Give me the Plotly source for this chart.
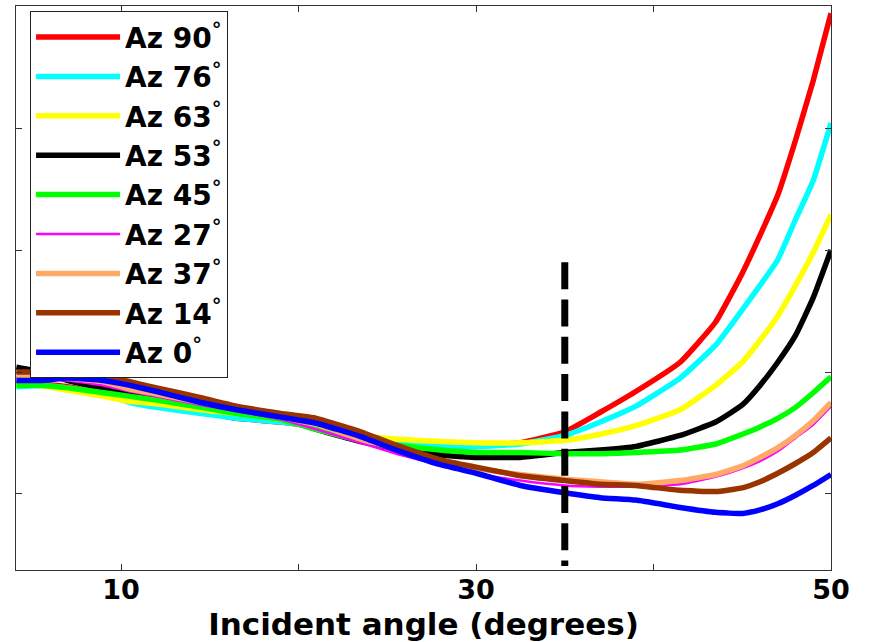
import plotly.graph_objects as go

# Incident angle (degrees)
incident_angle = [4.1, 5.5, 7, 9, 10.5, 12, 14.5, 16.5, 19, 21, 23.5, 25.5, 28, 30,
                  32.5, 35, 37, 39, 41.5, 43.5, 45, 46, 47, 48, 49, 50]

# Series values (arbitrary units, y-axis unlabeled)
az90 = [0.91, 0.90, 0.88, 0.82, 0.78, 0.74, 0.68, 0.62, 0.59, 0.55, 0.48, 0.43, 0.39, 0.39,
        0.42, 0.51, 0.67, 0.84, 1.08, 1.41, 1.81, 2.12, 2.45, 2.90, 3.39, 3.94]
az76 = [0.88, 0.89, 0.87, 0.82, 0.75, 0.71, 0.66, 0.62, 0.59, 0.55, 0.48, 0.43, 0.39, 0.39,
        0.41, 0.48, 0.59, 0.72, 0.95, 1.22, 1.51, 1.71, 1.92, 2.25, 2.57, 3.04]
az63 = [0.91, 0.89, 0.85, 0.80, 0.76, 0.74, 0.69, 0.66, 0.61, 0.55, 0.48, 0.45, 0.43, 0.42,
        0.42, 0.44, 0.49, 0.56, 0.69, 0.89, 1.08, 1.26, 1.46, 1.71, 1.98, 2.29]
az53 = [1.04, 1.00, 0.93, 0.87, 0.84, 0.80, 0.74, 0.69, 0.62, 0.53, 0.43, 0.37, 0.32, 0.30,
        0.30, 0.34, 0.36, 0.39, 0.48, 0.59, 0.73, 0.89, 1.08, 1.30, 1.61, 2.00]
az45 = [0.89, 0.89, 0.87, 0.83, 0.80, 0.77, 0.71, 0.66, 0.61, 0.53, 0.44, 0.40, 0.36, 0.34,
        0.34, 0.33, 0.33, 0.34, 0.36, 0.41, 0.49, 0.55, 0.62, 0.71, 0.83, 0.96]
az27 = [0.96, 0.94, 0.93, 0.89, 0.84, 0.80, 0.73, 0.68, 0.61, 0.53, 0.42, 0.33, 0.24, 0.17,
        0.11, 0.07, 0.06, 0.06, 0.08, 0.14, 0.21, 0.27, 0.35, 0.46, 0.57, 0.72]
az37 = [0.97, 0.97, 0.95, 0.92, 0.86, 0.82, 0.75, 0.70, 0.63, 0.57, 0.45, 0.37, 0.27, 0.21,
        0.16, 0.12, 0.10, 0.08, 0.11, 0.16, 0.23, 0.30, 0.38, 0.48, 0.60, 0.75]
az14 = [1.00, 1.00, 0.99, 0.97, 0.92, 0.87, 0.79, 0.72, 0.66, 0.62, 0.51, 0.40, 0.28, 0.22,
        0.15, 0.11, 0.08, 0.07, 0.03, 0.02, 0.05, 0.10, 0.17, 0.25, 0.34, 0.46]
az0 = [0.93, 0.93, 0.95, 0.93, 0.89, 0.84, 0.75, 0.69, 0.63, 0.58, 0.47, 0.36, 0.24, 0.17,
       0.07, 0.01, -0.03, -0.05, -0.11, -0.15, -0.16, -0.13, -0.08, -0.01, 0.07, 0.16]

series_names = ["Az 90<sup>°</sup>", "Az 76<sup>°</sup>", "Az 63<sup>°</sup>", "Az 53<sup>°</sup>",
                "Az 45<sup>°</sup>", "Az 27<sup>°</sup>", "Az 37<sup>°</sup>", "Az 14<sup>°</sup>",
                "Az 0<sup>°</sup>"]
series_values = [az90, az76, az63, az53, az45, az27, az37, az14, az0]
series_colors = ["#FF0000", "#00FFFF", "#FFFF00", "#000000", "#00FF00",
                 "#FF00FF", "#FFAA66", "#993300", "#0000FF"]
series_widths = [5.5, 5.5, 5.5, 5.5, 5.5, 2.5, 5.5, 5.5, 5.5]

# Critical-angle marker
marker_x = [35, 35]
marker_y = [1.90, -0.59]

x_tickvals = [10, 30, 50]
x_ticktext = ["10", "30", "50"]
x_minor_tickvals = [20, 40]
y_tickvals = [0, 1, 2, 3, 4]

fig = go.Figure()
for name, vals, col, w in zip(series_names, series_values, series_colors, series_widths):
    fig.add_trace(go.Scatter(x=incident_angle, y=vals, mode="lines", name=name,
                             line=dict(color=col, width=w, shape="spline", smoothing=0.4)))

fig.add_trace(go.Scatter(x=marker_x, y=marker_y, mode="lines", showlegend=False,
                         line=dict(color="black", width=7, dash="27px,10.3px")))

FONT = "DejaVu Sans"
fig.update_layout(
    width=871, height=642,
    margin=dict(l=16, r=40, t=6, b=72),
    paper_bgcolor="white", plot_bgcolor="white",
    font=dict(family=FONT, color="black"),
    legend=dict(x=0.017, y=0.991, xanchor="left", yanchor="top",
                bgcolor="white", bordercolor="#222", borderwidth=1.2,
                font=dict(family=FONT, size=28, weight="bold", color="black"),
                itemwidth=84, tracegroupgap=0),
    xaxis=dict(range=[4.08, 50], tickvals=x_tickvals, ticktext=x_ticktext,
               ticks="inside", ticklen=6, tickcolor="#333", showline=True,
               linecolor="#333", linewidth=1, mirror="ticks", showgrid=False,
               minor=dict(tickvals=x_minor_tickvals, ticks="inside", ticklen=6,
                          tickcolor="#333", showgrid=False),
               zeroline=False, automargin=False, ticklabelstandoff=-4,
               tickfont=dict(family=FONT, size=27, weight="bold", color="black"),
               title=dict(text="Incident angle (degrees)", standoff=8,
                          font=dict(family=FONT, size=31, weight="bold", color="black"))),
    yaxis=dict(range=[-0.623, 4.0], tickvals=y_tickvals, showticklabels=False,
               ticks="inside", ticklen=6, tickcolor="#333", showline=True,
               linecolor="#333", linewidth=1, mirror="ticks", showgrid=False,
               zeroline=False, automargin=False),
)

fig.write_html("out.html")
